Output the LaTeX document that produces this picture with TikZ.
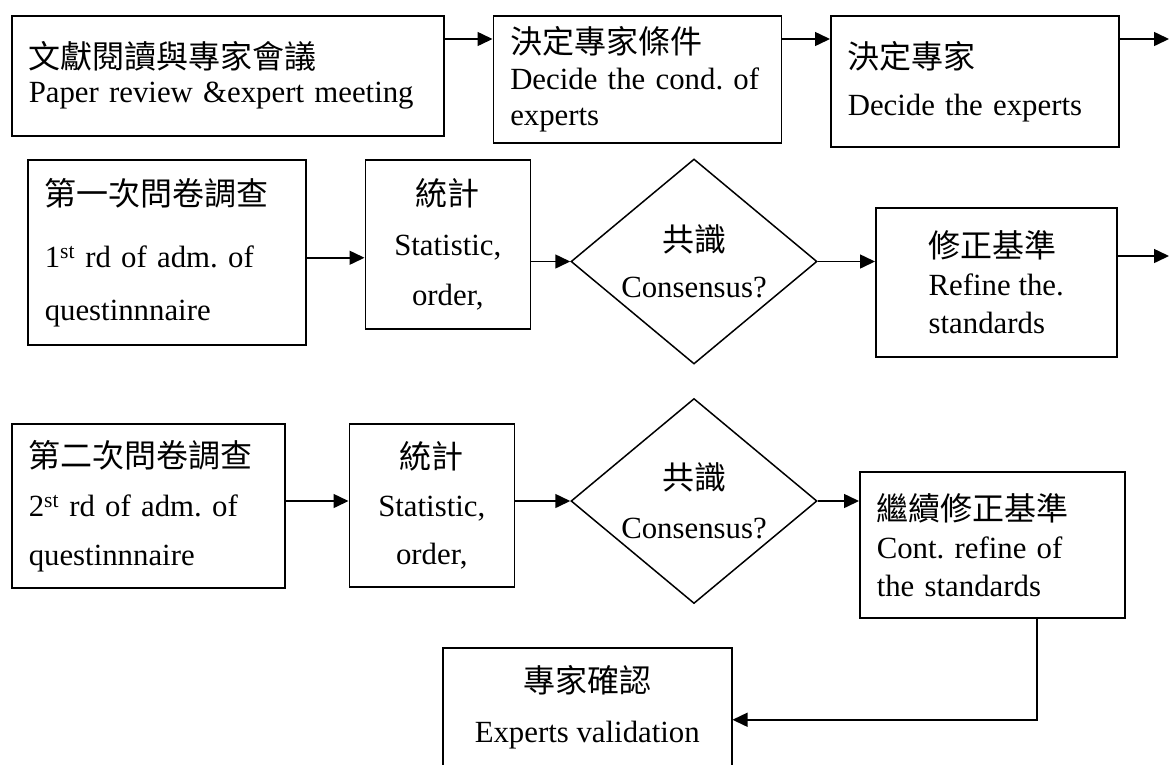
\documentclass[tikz,border=0pt]{standalone}
\usepackage{fontspec}
\setmainfont{Liberation Serif}
\newfontfamily\cjk[Scale=1.039]{Noto Sans CJK TC}
\usetikzlibrary{positioning,shapes.geometric,arrows.meta}
\newcommand{\boxfont}[1]{\fontsize{30.8pt}{#1pt}\selectfont}
\frenchspacing
\hyphenpenalty=10000

\begin{document}
\begin{tikzpicture}[
    x=1pt, y=-1pt,
    stepbox/.style={
        draw,
        line width=1.5pt,
        anchor=north west,
        align=left,
        inner xsep=17pt,
        inner ysep=0pt
    },
    midbox/.style={
        draw,
        line width=1.5pt,
        anchor=north west,
        align=center,
        inner sep=0pt
    },
    decision/.style={
        draw,
        line width=1.5pt,
        diamond,
        aspect=1.2,
        inner sep=0pt,
        minimum width=246pt,
        minimum height=205pt,
        align=center
    },
    arrow/.style={-{Triangle[length=15pt,width=14pt]}, line width=1.5pt}
]
\useasboundingbox (0,0) rectangle (1169,764);
\clip (0,0) rectangle (1169,764);

\node[stepbox, text width=398pt, minimum height=120pt, font=\boxfont{34}] (lit) at (11,15) {{\cjk 文獻閱讀與專家會議}\\Paper review \&expert meeting};
\node[stepbox, text width=254pt, minimum height=127pt, font=\boxfont{36}, right=48pt of lit.north east, anchor=north west] (cond) {{\cjk 決定專家條件}\\Decide the cond. of\\experts};
\node[stepbox, text width=254pt, minimum height=131pt, font=\boxfont{47}, right=48pt of cond.north east, anchor=north west] (expert) {{\cjk 決定專家}\\Decide the experts};
\coordinate (out1) at (1169,39);

\node[stepbox, text width=244pt, minimum height=185pt, font=\boxfont{53}] (round1) at (27,159) {{\cjk 第一次問卷調查}\\[9pt]1\textsuperscript{st} rd of adm. of\\questinnnaire};
\node[midbox, minimum width=165pt, minimum height=169pt, font=\boxfont{50}, right=58pt of round1.north east, anchor=north west] (stat1) {{\cjk 統計}\\Statistic,\\order,};
\node[decision, font=\boxfont{46}] (cons1) at (694,261.5) {{\cjk 共識}\\Consensus?};
\node[midbox, align=left, minimum width=241pt, minimum height=149pt, font=\boxfont{38}] (refine) at (875,207) {{\cjk 修正基準}\\Refine the.\\standards};
\coordinate (out2) at (1169,256);

\node[stepbox, text width=239pt, minimum height=164pt, font=\boxfont{49}] (round2) at (11,423) {{\cjk 第二次問卷調查}\\2\textsuperscript{st} rd of adm. of\\questinnnaire};
\node[midbox, minimum width=165pt, minimum height=163pt, font=\boxfont{48}, right=63pt of round2.north east, anchor=north west] (stat2) {{\cjk 統計}\\Statistic,\\order,};
\node[decision, font=\boxfont{49}] (cons2) at (694,501) {{\cjk 共識}\\Consensus?};
\node[stepbox, text width=231pt, minimum height=146pt, font=\boxfont{38}] (contref) at (859,471) {{\cjk 繼續修正基準}\\Cont. refine of\\the standards};
\node[midbox, minimum width=289pt, minimum height=119pt, font=\boxfont{50}] (valid) at (442,647) {{\cjk 專家確認}\\Experts validation};

\draw[arrow] ([yshift=-24pt]lit.north east) -- ([yshift=-24pt]cond.north west);
\draw[arrow] ([yshift=-24pt]cond.north east) -- ([yshift=-24pt]expert.north west);
\draw[arrow] ([yshift=-24pt]expert.north east) -- (out1);

\draw[arrow] ([yshift=-5.5pt]round1.east) -- ([yshift=-5.5pt]round1.east -| stat1.west);
\draw[arrow] (cons1.west -| stat1.east) -- (cons1.west);
\draw[arrow] (cons1.east) -- (cons1.east -| refine.west);
\draw[arrow] (out2 -| refine.east) -- (out2);

\draw[arrow] (cons2.west -| round2.east) -- (cons2.west -| stat2.west);
\draw[arrow] (cons2.west -| stat2.east) -- (cons2.west);
\draw[arrow] (cons2.east) -- (cons2.east -| contref.west);
\draw[arrow] ([xshift=44.5pt]contref.south) |- ([yshift=-12.5pt]valid.east);
\end{tikzpicture}
\end{document}
